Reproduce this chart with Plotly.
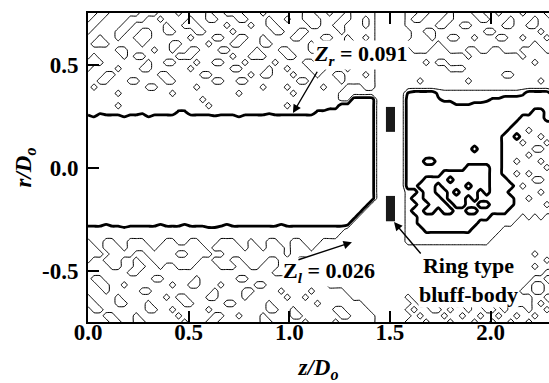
import plotly.graph_objects as go

# Mixture-fraction field sampled on a regular (z/Do, r/Do) grid.
# Cell codes: '0' lean, '1' between Z_l and Z_r, '4' between but close to Z_r,
# '3' just above Z_r, '2' rich.
# Rows run from r/Do = 0.75 (top) down to -0.75; each row is
# jet side (48 cells) | gap around the ring (5 cells) | downstream side (25 cells).
grid_step = 0.03
r_top = 0.75
segment_widths = [48, 5, 25]
level_values = {"0": 0.0, "1": 0.052, "4": 0.075, "3": 0.10, "2": 0.13}

field_rows = [
    "11001111 10001110 11110110 00111011 11110011 01101111 | 00000 | 11001 11011 10011 01110 11100",
    "10011110 00110111 10110011 10011101 10110001 11001101 | 00000 | 10011 10011 11001 11011 10110",
    "00111100 11111011 00011110 11101100 11111001 10011101 | 00000 | 11111 00110 01111 10011 00111",
    "01111001 10011001 11001111 01111110 01100111 11011111 | 00000 | 01100 11111 11100 11111 11011",
    "11011011 00011111 10111001 10011011 11001110 01101101 | 00000 | 01110 11001 10111 00110 11101",
    "10001111 10111100 11110111 00111001 11111011 11100111 | 00000 | 11111 01111 11111 11111 10111",
    "11111001 11101101 10011100 11110111 00111001 10011101 | 00000 | 01110 00111 00110 01110 00011",
    "10111101 00111110 00111111 01100011 10011111 11001111 | 00000 | 00000 00000 10000 00001 00000",
    "00011111 11011001 11011001 11011110 11110011 01111011 | 00000 | 00010 11000 00000 00000 01000",
    "01111011 10011111 10111111 00111101 10111000 11101111 | 00000 | 00000 00111 00000 00000 00000",
    "11100111 11110011 11100111 11101001 11011101 10011101 | 00000 | 00000 00000 00000 01100 00000",
    "11001110 01111001 11111001 10011111 11100111 11011111 | 00000 | 00100 00000 10000 00000 00100",
    "10111111 11001111 11011111 11111011 10111110 11100011 | 00000 | 00000 00000 00000 00000 00000",
    "11111011 11111101 11111111 10111111 11011111 11000000 | 00000 | 32222 41111 11111 11114 22221",
    "11111111 11111111 11101111 11111111 11111111 11002222 | 00000 | 22222 34411 11143 32222 22222",
    "11111011 11111111 11110111 11111111 10111111 11222222 | 00000 | 22222 22233 32222 22222 22222",
    "11411111 14111113 31111411 11111141 11111133 22222222 | 00000 | 22222 22222 22222 22222 21122",
    "23222232 22322222 22222322 23222222 22222222 22222222 | 00000 | 22222 22222 22222 22221 11122",
    "22222222 22222222 22222222 22222222 22222222 22222222 | 00000 | 22222 22222 22222 22211 11111",
    "22222222 22222222 22222222 22222222 22222222 22222222 | 00000 | 22222 22222 22222 22111 01111",
    "22222222 22222222 22222222 22222222 22222222 22222222 | 00000 | 22222 22222 22222 21121 11011",
    "22222222 22222222 22222222 22222222 22222222 22222222 | 00000 | 22222 22222 22222 21110 11101",
    "22222222 22222222 22222222 22222222 22222222 22222222 | 00000 | 22222 22222 21222 21111 10011",
    "22222222 22222222 22222222 22222222 22222222 22222222 | 00000 | 22222 22222 22222 21111 01110",
    "22222222 22222222 22222222 22222222 22222222 22222222 | 00000 | 22211 22222 22222 21101 11011",
    "22222222 22222222 22222222 22222222 22222222 22222222 | 00000 | 22222 22222 11112 21111 11101",
    "22222222 22222222 22222222 22222222 22222222 22222222 | 00000 | 22222 21111 11112 21101 01111",
    "22222222 22222222 22222222 22222222 22222222 22222222 | 00000 | 22211 11211 11112 22111 10011",
    "22222222 22222222 22222222 22222222 22222222 22222222 | 00000 | 22111 21111 21112 22210 11110",
    "22222222 22222222 22222222 22222222 22222222 22222222 | 00000 | 11211 22121 11212 22111 11011",
    "22222222 22222222 22222222 22222222 22222222 22222222 | 00000 | 12211 12111 21222 22211 01111",
    "22222222 22222222 22222222 22222222 22222222 22222220 | 00000 | 11221 11211 22112 22211 11101",
    "22222222 22222222 22222222 22222222 22222222 22222200 | 00000 | 12211 21122 11222 22111 11111",
    "22222222 22222222 22222222 22222222 22222222 22222000 | 00000 | 11222 22222 22221 11110 10100",
    "22232222 22223222 32222223 22222222 32222222 22220000 | 00000 | 11222 22222 22111 11100 00000",
    "11111141 11111111 11114411 11111111 11111111 11100000 | 00000 | 11122 22222 21111 10000 00000",
    "11111111 11111111 11111111 11111111 11111111 11000000 | 00000 | 11111 11111 11111 00000 00000",
    "01100110 00111001 10011100 01101100 11001110 00000000 | 00000 | 11111 11111 11110 00000 00000",
    "00100010 00010000 00001000 00100100 01000100 00000000 | 00000 | 00000 00000 00000 00000 00000",
    "00010000 11000001 10000110 00000000 01000000 00000000 | 00000 | 00000 00000 00000 00000 01000",
    "01100011 01100000 00011000 11000011 00011000 00000000 | 00000 | 00000 00000 00000 00000 00010",
    "11110011 00110110 00111100 01100111 00001100 00000000 | 00000 | 00000 00000 00000 00000 01000",
    "11111110 01111111 11111111 11111110 00000110 00000000 | 00000 | 00000 00000 00000 00000 00011",
    "10011111 11100111 11011111 10011111 11100010 00000000 | 00000 | 00000 00000 00000 00000 01100",
    "11001101 11111101 10011101 11110011 11111111 00000000 | 00000 | 00000 00000 00000 00000 10010",
    "11101111 10011111 11111011 11001111 01111011 11100000 | 00000 | 00000 00000 00000 00001 10011",
    "01111011 11111010 01110011 11011111 10110111 11110000 | 00000 | 10000 00000 00000 00000 01100",
    "00111001 11011111 00111110 01111101 11111101 11111100 | 00000 | 01000 10100 01001 00100 01010",
    "10011111 11001101 11110111 11111100 11011111 10011110 | 00000 | 10110 01011 01100 10111 01101",
    "11100111 01111110 11111001 10111011 11001111 11001111 | 00000 | 01011 10110 11011 01101 10110",
    "11110011 00111111 01110011 11111001 11110111 10111111 | 00000 | 11101 11011 10110 11011 01111",
]

# Contour levels
z_lean = 0.026
z_rich = 0.091

# Ring-type bluff-body cross-section (z/Do extent, r/Do extents of both rings)
ring_z = [1.48, 1.525]
ring_r_upper = [0.173, 0.294]
ring_r_lower = [-0.261, -0.138]

# Axis ticks
x_ticks = [0.0, 0.5, 1.0, 1.5, 2.0]
x_ticktext = ["0.0", "0.5", "1.0", "1.5", "2.0"]
y_ticks = [-0.5, 0.0, 0.5]
y_ticktext = ["-0.5", "0.0", "0.5"]
x_range = [0.0, 2.29]
y_range = [-0.75, 0.75]

# Labels: (text, z, r) and arrows: (head z, head r, tail z, tail r)
label_rich = ("<b><i>Z<sub>r</sub></i> = 0.091</b>", 1.356, 0.545)
arrow_rich = (1.018, 0.264, 1.143, 0.472)
label_lean = ("<b>Z<sub><i>l</i></sub> = 0.026</b>", 1.197, -0.508)
arrow_lean = (1.311, -0.363, 1.038, -0.45)
label_ring = ("<b>Ring type<br>bluff-body</b>", 1.888, -0.547)
arrow_ring = (1.52, -0.265, 1.659, -0.425)

FONT = "Liberation Serif"


def decode_row(row):
    parts = row.replace(" ", "").split("|")
    cells = ""
    for part, width in zip(parts, segment_widths):
        cells += (part + part[-1] * width)[:width]
    return [level_values[c] for c in cells]


field = [decode_row(r) for r in field_rows]
n_cols = len(field[0])
z_coords = [j * grid_step for j in range(n_cols)]
r_coords = [r_top - i * grid_step for i in range(len(field))]

fig = go.Figure()

for level, width in [(z_lean, 1.0), (z_rich, 2.8)]:
    fig.add_trace(go.Contour(
        x=z_coords, y=r_coords, z=field,
        autocontour=False,
        contours=dict(start=level, end=level, size=1.0, coloring="none", showlabels=False),
        line=dict(color="black", width=width, smoothing=0.5),
        showscale=False, hoverinfo="skip",
    ))

for r_span in (ring_r_upper, ring_r_lower):
    fig.add_shape(type="rect", xref="x", yref="y",
                  x0=ring_z[0], x1=ring_z[1], y0=r_span[0], y1=r_span[1],
                  fillcolor="#1a1a1a", line=dict(width=0), layer="above")

label_font = dict(family=FONT, size=22, color="black")
for text, zx, ry in (label_rich, label_lean, label_ring):
    fig.add_annotation(x=zx, y=ry, xref="x", yref="y", text=text, showarrow=False,
                       font=label_font, bgcolor="white", borderpad=0, align="center")

for hz, hr, tz, tr in (arrow_rich, arrow_lean, arrow_ring):
    fig.add_annotation(x=hz, y=hr, xref="x", yref="y", ax=tz, ay=tr, axref="x", ayref="y",
                       text="", showarrow=True, arrowhead=2, arrowsize=1.2,
                       arrowwidth=1.4, arrowcolor="black", standoff=0, startstandoff=0)

tick_font = dict(family=FONT, size=23, color="black", weight="bold")
title_font = dict(family=FONT, size=23, color="black")
fig.update_xaxes(
    range=x_range, tickvals=x_ticks, ticktext=x_ticktext,
    ticks="inside", ticklen=11, tickwidth=2, tickcolor="black",
    showline=True, linewidth=2, linecolor="black", mirror="ticks",
    showgrid=False, zeroline=False, tickfont=tick_font, ticklabelstandoff=-12,
    title=dict(text="<b><i>z/D<sub>o</sub></i></b>", font=title_font, standoff=17),
    automargin=False,
)
fig.update_yaxes(
    range=y_range, tickvals=y_ticks, ticktext=y_ticktext,
    ticks="inside", ticklen=11, tickwidth=2, tickcolor="black",
    showline=True, linewidth=2, linecolor="black", mirror=False,
    showgrid=False, zeroline=False, tickfont=tick_font, ticklabelstandoff=3,
    title=dict(text="<b><i>r/D<sub>o</sub></i></b>", font=title_font, standoff=4),
    automargin=False,
)
fig.update_layout(
    width=549, height=383,
    margin=dict(l=88, r=0, t=13, b=61),
    plot_bgcolor="white", paper_bgcolor="white",
    showlegend=False,
)

fig.write_html("out.html")
